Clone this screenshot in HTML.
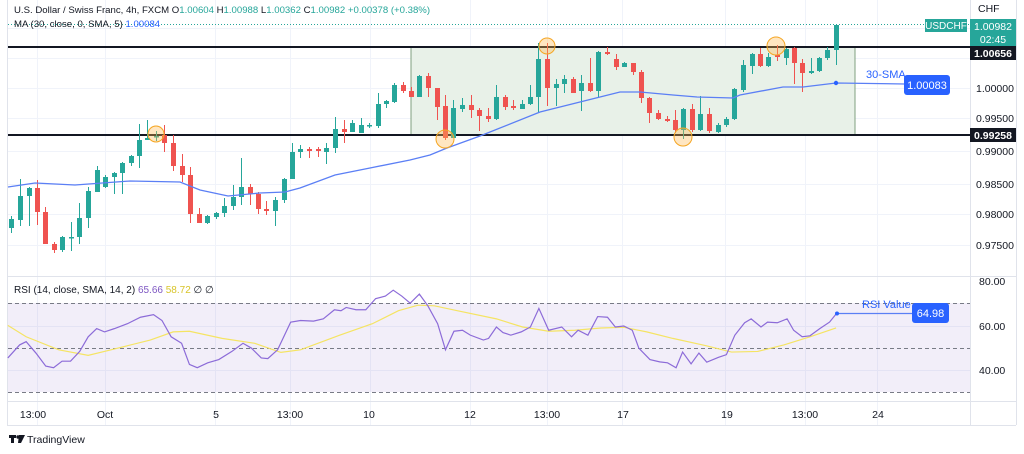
<!DOCTYPE html>
<html><head><meta charset="utf-8"><style>
html,body{margin:0;padding:0;background:#fff;width:1024px;height:454px;overflow:hidden}
svg{display:block;font-family:"Liberation Sans",sans-serif}
</style></head><body>
<svg id="s" width="1024" height="454" viewBox="0 0 1024 454" xmlns="http://www.w3.org/2000/svg">
<rect x="0" y="0" width="1024" height="454" fill="#fff"/>
<g id="grid" stroke="#f0f3fa" stroke-width="1"></g>
<line x1="7.5" y1="0" x2="7.5" y2="425" stroke="#e0e3eb"/>
<line x1="970.5" y1="0" x2="970.5" y2="425" stroke="#e0e3eb"/>
<line x1="7" y1="276.5" x2="1016" y2="276.5" stroke="#e0e3eb"/>
<line x1="7" y1="401.5" x2="1016" y2="401.5" stroke="#e0e3eb"/>
<line x1="7" y1="425.5" x2="1016" y2="425.5" stroke="#e0e3eb"/>
<line x1="1016.5" y1="0" x2="1016.5" y2="425" stroke="#e0e3eb"/>
<rect x="8" y="303" width="962" height="89" fill="#7e57c2" fill-opacity="0.1"/>
<g stroke="#787b86" stroke-dasharray="4,3" stroke-width="1">
<line x1="8" y1="303.5" x2="970" y2="303.5"/><line x1="8" y1="348.5" x2="970" y2="348.5"/><line x1="8" y1="392.5" x2="970" y2="392.5"/>
</g>
<rect x="411" y="47" width="444" height="88" fill="#e8f1e8" stroke="#7fa07f" stroke-width="1"/>
<line x1="8" y1="24.5" x2="970" y2="24.5" stroke="#26a69a" stroke-dasharray="1,2"/>
<line x1="8" y1="47" x2="970" y2="47" stroke="#131722" stroke-width="2"/>
<line x1="8" y1="135" x2="970" y2="135" stroke="#131722" stroke-width="2"/>
<g id="candles"></g>
<polyline fill="none" stroke="#5b7ff5" stroke-width="1.3" points="8,187 35,183 75,185 130,181 180,182 200,190 228,196 260,193 285,192 300,188 335,175 370,168 410,160 430,155 447,148 480,136 540,112 600,97 620,92 640,92 673,95 697,97 733,98 740,95 783,87 803,87 836,83 905,84"/>
<circle cx="836" cy="83" r="2.2" fill="#2962ff"/>
<g fill="#ffb74d" fill-opacity="0.35" stroke="#f5a623" stroke-width="1">
<circle cx="156" cy="134" r="8"/><circle cx="547" cy="46" r="8"/><circle cx="445" cy="139" r="9"/><circle cx="683" cy="137" r="9"/><circle cx="776" cy="46" r="9"/>
</g>
<text x="866" y="78" font-size="11" fill="#2962ff">30-SMA</text>
<rect x="904" y="75" width="46" height="20" rx="3" fill="#2962ff"/>
<text x="927" y="89" font-size="11" fill="#fff" text-anchor="middle">1.00083</text>
<g transform="translate(0,270) scale(0.6532,0.3257)">
<polyline fill="none" stroke="#f5e463" stroke-width="1.2" vector-effect="non-scaling-stroke" points="12,170 40,205 90,245 135,262 170,245 230,215 265,190 290,188 340,210 390,225 430,253 460,245 520,200 570,165 610,125 640,108 665,110 700,125 760,150 800,175 840,188 880,185 920,178 955,176 990,190 1030,210 1080,232 1120,252 1160,250 1200,230 1240,205 1280,178"/>
<polyline fill="none" stroke="#8c6bd8" stroke-width="1.2" vector-effect="non-scaling-stroke" points="12,270 30,230 40,220 55,255 70,295 82,300 95,280 108,280 122,250 135,205 148,180 160,190 175,180 195,165 215,145 235,137 248,155 262,205 278,225 290,290 302,300 318,285 335,275 355,250 372,225 385,240 400,270 410,272 425,245 445,160 460,155 480,157 495,150 512,122 522,125 530,115 545,122 560,122 575,88 590,80 602,62 615,80 628,102 642,74 655,110 670,165 682,245 695,188 708,185 720,200 740,215 748,210 760,175 770,192 782,200 798,190 812,175 825,118 840,185 860,175 875,205 885,185 900,200 915,143 930,145 942,175 955,172 968,185 978,240 995,275 1010,282 1022,285 1035,300 1045,252 1058,288 1070,255 1082,283 1100,268 1112,260 1125,200 1140,162 1150,150 1165,175 1175,160 1190,162 1205,150 1215,185 1228,205 1240,202 1255,180 1270,160 1282,130"/>
</g>
<line x1="837" y1="313.5" x2="912" y2="313.5" stroke="#5b7ff5" stroke-width="1.3"/>
<circle cx="837" cy="313.5" r="2" fill="#2962ff"/>
<text x="862" y="308" font-size="11" fill="#2962ff">RSI Value</text>
<rect x="912" y="303" width="37" height="20" rx="3" fill="#2962ff"/>
<text x="930.5" y="317" font-size="11" fill="#fff" text-anchor="middle">64.98</text>
<text x="14" y="13" font-size="9.6" fill="#131722">U.S. Dollar / Swiss Franc, 4h, FXCM  <tspan>O</tspan><tspan fill="#26a69a">1.00604</tspan>  H<tspan fill="#26a69a">1.00988</tspan>  L<tspan fill="#26a69a">1.00362</tspan>  C<tspan fill="#26a69a">1.00982</tspan>  <tspan fill="#26a69a">+0.00378 (+0.38%)</tspan></text>
<text x="14" y="27" font-size="9.6" fill="#131722">MA (30, close, 0, SMA, 5)  <tspan fill="#2962ff">1.00084</tspan></text>
<text x="14" y="293" font-size="10" fill="#131722">RSI (14, close, SMA, 14, 2)  <tspan fill="#7e57c2">65.66</tspan>  <tspan fill="#d8c42a">58.72</tspan>  ∅  ∅</text>
<g font-size="10.5" fill="#131722">
<text x="978" y="12">CHF</text>
<text x="976" y="92">1.00000</text>
<text x="976" y="122">0.99500</text>
<text x="976" y="155">0.99000</text>
<text x="976" y="188">0.98500</text>
<text x="976" y="218">0.98000</text>
<text x="976" y="249">0.97500</text>
<text x="979" y="285">80.00</text>
<text x="979" y="330">60.00</text>
<text x="979" y="374">40.00</text>
</g>
<rect x="925" y="19" width="42" height="13" fill="#26a69a"/>
<text x="946" y="29" font-size="10" fill="#fff" text-anchor="middle">USDCHF</text>
<rect x="970" y="19" width="46" height="28" fill="#26a69a"/>
<text x="993" y="30" font-size="10.5" fill="#fff" text-anchor="middle">1.00982</text>
<text x="993" y="43" font-size="10.5" fill="#fff" text-anchor="middle">02:45</text>
<rect x="970" y="46" width="46" height="14" fill="#131722"/>
<text x="993" y="57" font-size="10.5" fill="#fff" text-anchor="middle" font-weight="bold">1.00656</text>
<rect x="970" y="128" width="46" height="14" fill="#131722"/>
<text x="993" y="139" font-size="10.5" fill="#fff" text-anchor="middle" font-weight="bold">0.99258</text>
<g font-size="10.5" fill="#131722" text-anchor="middle">
<text x="33" y="418">13:00</text><text x="105" y="418">Oct</text><text x="216" y="418">5</text><text x="290" y="418">13:00</text><text x="369" y="418">10</text><text x="470" y="418">12</text><text x="547" y="418">13:00</text><text x="623" y="418">17</text><text x="727" y="418">19</text><text x="805" y="418">13:00</text><text x="878" y="418">24</text>
</g>
<g fill="#131722"><rect x="9" y="435" width="7" height="3"/><rect x="11" y="435" width="3" height="8"/><circle cx="18" cy="437" r="1.7"/><polygon points="19,435 25,435 21,443 18,443"/></g>
<text x="27" y="443" font-size="10.5" fill="#131722">TradingView</text>
</svg>
<script>
var g=document.getElementById('grid'),ns='http://www.w3.org/2000/svg';
[37,105,215,290,370,470,547,622,725,805,877].forEach(function(x){var l=document.createElementNS(ns,'line');l.setAttribute('x1',x+.5);l.setAttribute('x2',x+.5);l.setAttribute('y1',0);l.setAttribute('y2',425);g.appendChild(l);});
[28,58,88,118,151,184,214,245,326,370].forEach(function(y){var l=document.createElementNS(ns,'line');l.setAttribute('x1',8);l.setAttribute('x2',970);l.setAttribute('y1',y+.5);l.setAttribute('y2',y+.5);g.appendChild(l);});
var C=[[11,219,228,216,233,1],[20,196,220,179,226,1],[29,188,196,187,226,1],[37,188,212,180,225,0],[45,212,244,207,244,0],[54,244,250,242,253,0],[62,237,250,236,252,1],[71,237,238,222,251,1],[79,218,237,203,244,1],[88,191,218,187,228,1],[97,170,192,166,192,1],[105,177,187,175,188,1],[114,173,177,172,194,1],[122,163,173,162,194,1],[131,156,163,155,166,1],[139,140,156,124,168,1],[147,138,140,120,140,1],[156,136,137,131,141,1],[164,135,143,125,152,0],[173,143,166,135,171,0],[182,166,175,154,182,0],[190,175,214,167,223,0],[199,214,223,208,223,0],[207,216,223,215,224,1],[216,213,217,212,219,1],[224,206,213,198,217,1],[233,197,206,185,210,1],[241,187,197,158,205,1],[250,187,194,184,205,0],[258,194,209,192,214,0],[266,209,211,201,215,0],[275,200,211,197,226,1],[284,179,200,178,203,1],[292,152,179,143,179,1],[300,149,152,145,158,1],[309,149,151,147,158,0],[318,149,151,147,157,0],[326,148,152,143,164,1],[335,129,148,117,153,1],[344,129,132,120,143,0],[352,123,132,120,132,1],[361,125,133,118,133,1],[369,125,126,123,128,1],[378,104,126,93,128,1],[386,101,104,100,108,1],[394,85,102,83,103,1],[403,85,91,82,93,0],[411,91,97,87,97,0],[419,76,97,75,97,1],[428,76,88,73,97,0],[437,88,107,88,120,0],[445,106,138,95,140,0],[453,108,138,100,138,1],[462,105,109,98,112,1],[471,105,110,95,118,0],[479,110,116,108,131,0],[488,116,119,108,122,0],[496,97,119,85,120,1],[505,97,107,95,110,0],[513,106,108,100,110,0],[522,104,109,100,109,1],[530,97,104,85,105,1],[538,59,97,43,112,1],[547,59,88,43,106,0],[556,84,88,79,106,1],[564,79,84,75,93,1],[573,79,93,77,93,0],[581,83,91,75,111,1],[590,83,91,58,92,0],[598,52,91,51,98,1],[607,52,54,47,55,0],[616,59,67,54,70,0],[624,63,67,62,67,1],[633,63,72,63,75,0],[641,72,98,70,103,0],[649,98,113,97,123,0],[658,113,119,110,120,0],[667,119,121,116,122,0],[675,120,130,110,133,0],[683,109,130,108,139,1],[692,109,130,104,132,0],[700,114,130,96,131,1],[709,114,131,108,133,0],[718,125,132,123,133,1],[726,119,125,117,127,1],[734,89,119,88,120,1],[743,65,90,60,92,1],[752,54,66,53,74,1],[760,54,66,48,67,0],[768,57,66,53,67,1],[777,55,57,45,61,0],[786,49,58,48,65,1],[794,48,63,47,84,0],[802,63,73,59,92,0],[811,71,73,58,74,1],[819,58,71,57,72,1],[827,50,58,47,60,1],[836,25,50,25,65,1]];
var cg=document.getElementById('candles');
C.forEach(function(c){var col=c[5]?'#26a69a':'#ef5350';
var w=document.createElementNS(ns,'line');w.setAttribute('x1',c[0]+.5);w.setAttribute('x2',c[0]+.5);w.setAttribute('y1',c[3]);w.setAttribute('y2',c[4]);w.setAttribute('stroke',col);cg.appendChild(w);
var r=document.createElementNS(ns,'rect');r.setAttribute('x',c[0]-2);r.setAttribute('y',c[1]);r.setAttribute('width',5);r.setAttribute('height',Math.max(1.5,c[2]-c[1]));r.setAttribute('fill',col);cg.appendChild(r);});
</script>
</body></html>
